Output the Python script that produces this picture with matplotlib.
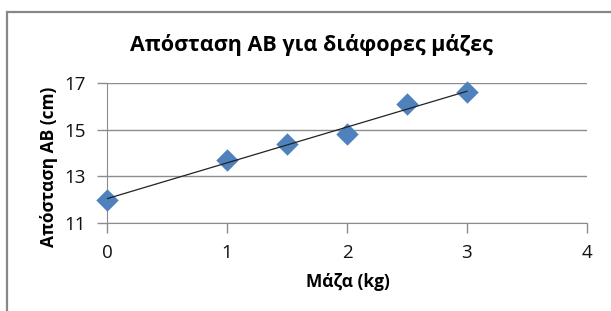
import numpy as np
import matplotlib.pyplot as plt
from matplotlib.patches import Rectangle

mass = [0, 1, 1.5, 2, 2.5, 3]
distance = [12.0, 13.7, 14.4, 14.8, 16.1, 16.6]
x_ticks = [0, 1, 2, 3, 4]
y_ticks = [11, 13, 15, 17]

W, H = 611, 311
fig = plt.figure(figsize=(W / 100, H / 100), dpi=100)
ax = fig.add_axes([107 / W, 1 - 223 / H, (587 - 107) / W, (223 - 83) / H])

# chart frame
fig.patches.append(Rectangle((7 / W, -0.1), 1.2, 1 - 12 / H + 0.1,
                             transform=fig.transFigure, fill=False,
                             edgecolor="#878787", linewidth=1.6))

ax.scatter(mass, distance, marker="D", s=130, color="#4f81bd", zorder=3,
           linewidths=0, clip_on=False)

# linear trend line
k, b = np.polyfit(mass, distance, 1)
xs = np.array([min(mass), max(mass)])
ax.plot(xs, k * xs + b, color="#222222", linewidth=0.9, zorder=4)

ax.set_xlim(0, 4)
ax.set_ylim(11, 17)
ax.set_xticks(x_ticks)
ax.set_yticks(y_ticks)
ax.grid(axis="y", color="#8c8c8c", linewidth=1)
ax.set_axisbelow(True)
for s in ["top", "right"]:
    ax.spines[s].set_visible(False)
for s in ["left", "bottom"]:
    ax.spines[s].set_color("#8c8c8c")
ax.tick_params(axis="both", length=7, color="#8c8c8c", labelsize=13.5,
               labelcolor="#111111", width=1)
ax.tick_params(axis="y", pad=8)
ax.tick_params(axis="x", pad=8)
for lbl in ax.get_xticklabels() + ax.get_yticklabels():
    lbl.set_family("Open Sans")

fig.text(311 / W, 1 - 45 / H, "Απόσταση ΑΒ για διάφορες μάζες",
         ha="center", va="center", fontsize=15.5, fontweight="bold",
         family="Open Sans")
fig.text(348 / W, 1 - 282 / H, "Μάζα (kg)", ha="center", va="center",
         fontsize=12.5, fontweight="bold", family="Open Sans")
fig.text(49 / W, 1 - 167 / H, "Απόσταση ΑΒ (cm)", ha="center", va="center",
         rotation=90, fontsize=12.5, fontweight="bold", family="Open Sans")

fig.savefig("out.png", dpi=100)
